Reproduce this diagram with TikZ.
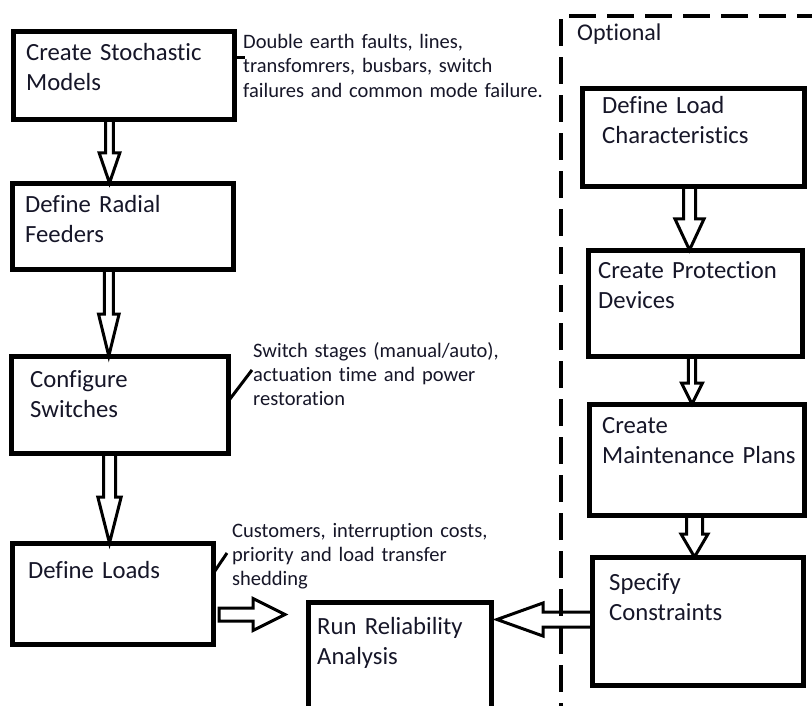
\documentclass[tikz,border=0pt]{standalone}
\usepackage{fontspec}
\setmainfont{Carlito}[Ligatures={NoCommon,NoContextual}]
\usetikzlibrary{calc}
\definecolor{ink}{RGB}{22,22,40}
\newcommand\blockarrow[5]{%
  \path ($(#2)!#5!(#1)$) coordinate (bab);
  \draw[blk] ($(#1)!#3!90:(#2)$) -- ($(bab)!#3!90:(#2)$) -- ($(bab)!#4!90:(#2)$) -- (#2)
    -- ($(bab)!#4!-90:(#2)$) -- ($(bab)!#3!-90:(#2)$) -- ($(#1)!#3!-90:(#2)$) -- cycle;}
\begin{document}
\begin{tikzpicture}[x=1pt,y=-1pt,
  box/.style={draw=black, line width=3.2pt, rectangle, inner sep=0pt, anchor=north west},
  main/.style={font=\fontsize{24.7}{30}\selectfont, anchor=base west, inner sep=0pt, align=left, text width=260pt, text=ink},
  note/.style={font=\fontsize{20.5}{24.4}\selectfont, anchor=base west, inner sep=0pt, align=left, text width=330pt, text=ink},
  blk/.style={draw=black, line width=3pt, fill=white, line join=miter},
  leader/.style={draw=black, line width=3pt},
  optframe/.style={draw=black, line width=3.6pt, dash pattern=on 27pt off 11pt},
]
\useasboundingbox (0,0) rectangle (812,706);
\clip (0,0) rectangle (812,706);
\fill[white] (0,0) rectangle (812,706);

% box outlines (positions)
\path
  (13,31)  node[box, minimum width=219pt, minimum height=86pt] (a) {}
  (12,183) node[box, minimum width=219pt, minimum height=84pt] (b) {}
  (11,356) node[box, minimum width=215pt, minimum height=95pt] (c) {}
  (12,543) node[box, minimum width=199pt, minimum height=99pt] (d) {}
  (308,602) node[box, minimum width=181pt, minimum height=140pt] (e) {}
  (582,88) node[box, minimum width=220pt, minimum height=96pt] (f) {}
  (588,250) node[box, minimum width=212pt, minimum height=104pt] (g) {}
  (589,404) node[box, minimum width=213pt, minimum height=109pt] (h) {}
  (592,557) node[box, minimum width=209pt, minimum height=126pt] (i) {};

% arrow end points
\coordinate (ab1) at (a.south -| 109.5,0);
\coordinate (ab2) at (b.north -| 109.5,0);
\coordinate (bc1) at (b.south -| 108.8,0);
\coordinate (bc2) at (c.north -| 108.8,0);
\coordinate (cd1) at (c.south -| 109.5,0);
\coordinate (cd2) at (d.north -| 109.5,0);
\coordinate (de1) at (219,614.5);
\coordinate (de2) at (285,614.5);
\coordinate (ie1) at (i.west |- 0,619.5);
\coordinate (ie2) at (497,619.5);
\coordinate (fg1) at (f.south -| 689.5,0);
\coordinate (fg2) at (g.north -| 689.5,0);
\coordinate (gh1) at (g.south -| 692,0);
\coordinate (gh2) at (h.north -| 692,0);
\coordinate (hi1) at (h.south -| 694.5,0);
\coordinate (hi2) at (i.north -| 694.5,0);

\blockarrow{ab1}{ab2}{3.8pt}{10.3pt}{30pt}
\blockarrow{bc1}{bc2}{4.5pt}{10.3pt}{42pt}
\blockarrow{cd1}{cd2}{6pt}{11.7pt}{46pt}
\blockarrow{de1}{de2}{6.5pt}{16pt}{32pt}
\blockarrow{ie1}{ie2}{7.5pt}{16.5pt}{46pt}
\blockarrow{fg1}{fg2}{6pt}{14.5pt}{31pt}
\blockarrow{gh1}{gh2}{3.6pt}{10.5pt}{21pt}
\blockarrow{hi1}{hi2}{8pt}{13.5pt}{23pt}

% redraw boxes on top of arrows
\foreach \n in {a,b,c,d,e,f,g,h,i}
  \draw[line width=3.2pt] (\n.north west) rectangle (\n.south east);

% optional frame
\draw[optframe] (561,730) -- (561,16) -- (840,16);

% leaders
\coordinate (na) at (245,58);
\coordinate (nc) at (252,370);
\coordinate (nd) at (227,553);
\draw[leader] (a.east |- na) -- (na);
\draw[leader] (c.east |- 0,400) -- (nc);
\draw[leader] (d.east |- 0,572) -- (nd);

% texts
\node[main] (ta) at (26,61) {Create Stochastic\\Models};
\node[main] (tb) at (25,212) {Define Radial\\Feeders};
\node[main] (tc) at (30,387) {Configure\\Switches};
\node[main] (td) at (28,578) {Define Loads};
\node[main] (te) at (317,634) {Run Reliability\\Analysis};
\node[main] (tf) at (602,114) {Define Load\\Characteristics};
\node[main] (tg) at (598,278) {Create Protection\\Devices};
\node[main] (th) at (602,433) {Create\\Maintenance Plans};
\node[main] (ti) at (609,590) {Specify\\Constraints};
\node[main, font=\fontsize{24}{28}\selectfont] (topt) at (577,41) {Optional};

\node[note] (n1) at (243,48.5) {Double earth faults, lines,\\transfomrers, busbars, switch\\failures and common mode failure.};
\node[note] (n2) at (253,357) {Switch stages (manual/auto),\\actuation time and power\\restoration};
\node[note] (n3) at (232,537) {Customers, interruption costs,\\priority and load transfer\\shedding};
\end{tikzpicture}
\end{document}
